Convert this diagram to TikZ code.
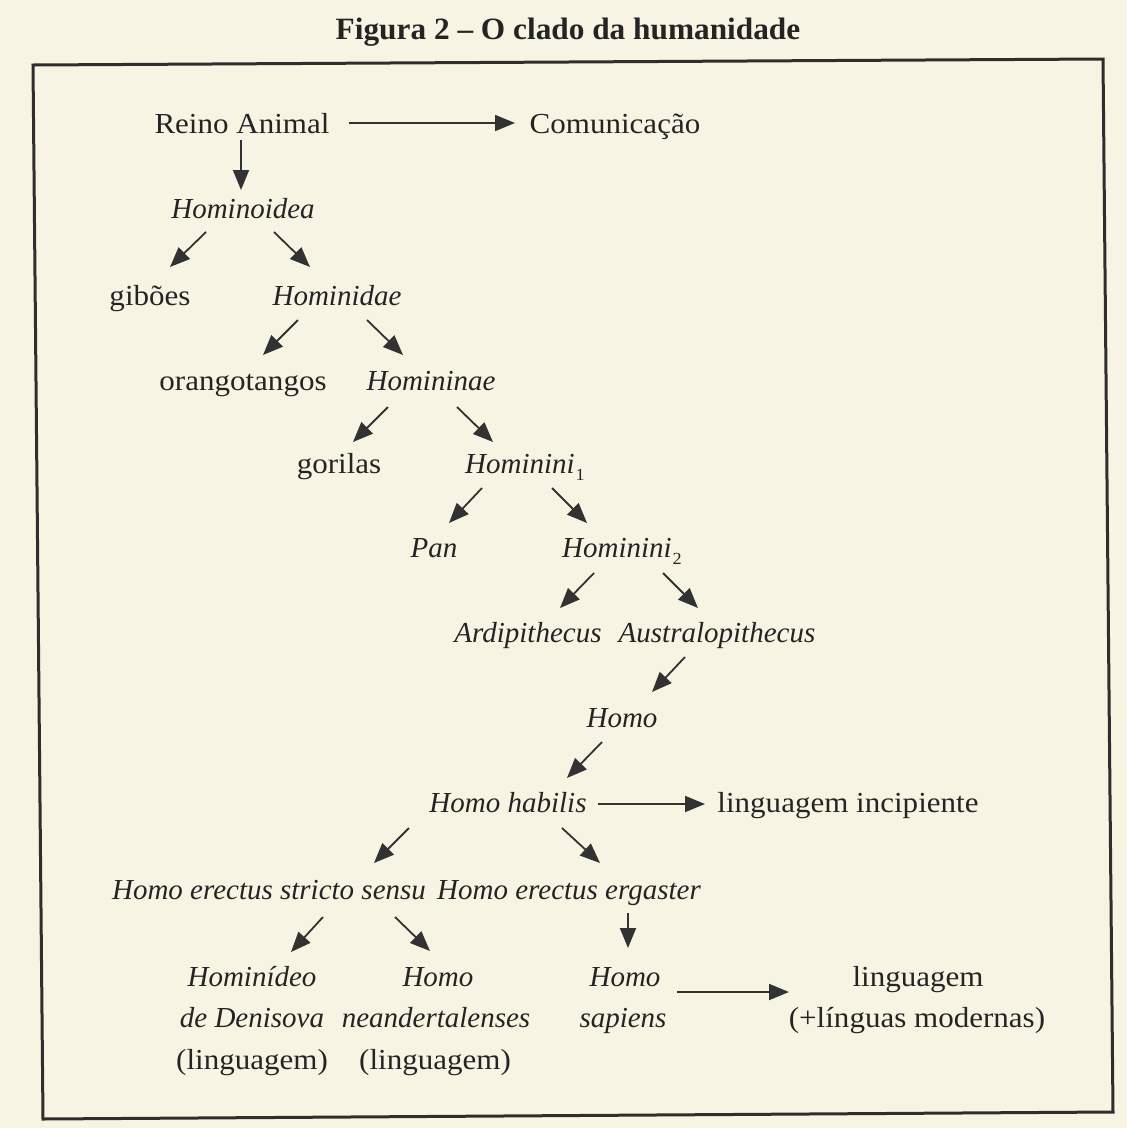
\documentclass[tikz,border=0pt]{standalone}
\usepackage{fontspec}
\setmainfont{Liberation Serif}
\newfontfamily\romf{Liberation Serif}[FakeStretch=1.07]
\newfontfamily\itfam{Liberation Serif}[FakeStretch=1.0]
\newfontfamily\bfam{Liberation Serif}[FakeStretch=1.01]
\usetikzlibrary{arrows.meta}
\definecolor{paper}{RGB}{248,244,228}
\definecolor{ink}{RGB}{36,36,36}
\definecolor{arrowink}{RGB}{50,50,50}
\newcommand{\subnum}[1]{\kern1pt\raisebox{-7pt}{\romf\upshape\fontsize{17}{17}\selectfont #1}}
\tikzset{
  rmtext/.style={anchor=base, inner sep=0pt, text=ink, font=\romf\fontsize{29}{34}\selectfont},
  ittext/.style={anchor=base, inner sep=0pt, text=ink, font=\itfam\itshape\fontsize{29}{34}\selectfont},
  titletext/.style={anchor=base, inner sep=0pt, text=ink, font=\bfam\bfseries\fontsize{31}{34}\selectfont},
  arr/.style={draw=arrowink, line width=1.8pt, -{Triangle[length=20pt,width=16pt]}},
  frameline/.style={draw=black!82, line width=3pt, line join=miter}
}
\begin{document}
\begin{tikzpicture}[x=1pt,y=-1pt]
\useasboundingbox (0,0) rectangle (1127,1128);
\fill[paper] (0,0) rectangle (1127,1128);
\draw[frameline] (33,65) -- (1103,59) -- (1113,1112) -- (43,1119) -- cycle;

\node[titletext] (title) at (568,39) {Figura 2 – O clado da humanidade};

\node[rmtext] (reino) at (242,133) {Reino Animal};
\node[rmtext] (comun) at (615,133) {Comunicação};
\node[ittext] (hominoidea) at (243,218) {Hominoidea};
\node[rmtext] (giboes) at (150,305) {gibões};
\node[ittext] (hominidae) at (337,305) {Hominidae};
\node[rmtext] (orang) at (243,390) {orangotangos};
\node[ittext] (homininae) at (431,390) {Homininae};
\node[rmtext] (gorilas) at (339,473) {gorilas};
\node[ittext] (hominini1) at (525,473) {Hominini\subnum{1}};
\node[ittext] (pan) at (434,557) {Pan};
\node[ittext] (hominini2) at (622,557) {Hominini\subnum{2}};
\node[ittext] (ardi) at (528,642) {Ardipithecus};
\node[ittext] (austral) at (717,642) {Australopithecus};
\node[ittext] (homo) at (622,727) {Homo};
\node[ittext] (habilis) at (508,812) {Homo habilis};
\node[rmtext] (incip) at (848,812) {linguagem incipiente};
\node[ittext] (stricto) at (269,899) {Homo erectus stricto sensu};
\node[ittext] (ergaster) at (569,899) {Homo erectus ergaster};

\node[ittext] (denis1) at (252,986) {Hominídeo};
\node[ittext] (denis2) at (252,1027) {de Denisova};
\node[rmtext] (denis3) at (252,1069) {(linguagem)};
\node[ittext] (neander1) at (438,986) {Homo};
\node[ittext] (neander2) at (436,1027) {neandertalenses};
\node[rmtext] (neander3) at (435,1069) {(linguagem)};
\node[ittext] (sapiens1) at (625,986) {Homo};
\node[ittext] (sapiens2) at (623,1027) {sapiens};
\node[rmtext] (lingmod1) at (918,986) {linguagem};
\node[rmtext] (lingmod2) at (917,1027) {(+línguas modernas)};

\draw[arr] ([shift={(107,-10)}]reino.base) -- ([shift={(-100,-10)}]comun.base);
\draw[arr] ([shift={(-1,7)}]reino.base) -- ([shift={(-2,-28)}]hominoidea.base);
\draw[arr] ([shift={(-37,14)}]hominoidea.base) -- ([shift={(20,-38)}]giboes.base);
\draw[arr] ([shift={(31,14)}]hominoidea.base) -- ([shift={(-27,-38)}]hominidae.base);
\draw[arr] ([shift={(-39,15)}]hominidae.base) -- ([shift={(20,-35)}]orang.base);
\draw[arr] ([shift={(30,15)}]hominidae.base) -- ([shift={(-28,-35)}]homininae.base);
\draw[arr] ([shift={(-43,17)}]homininae.base) -- ([shift={(14,-31)}]gorilas.base);
\draw[arr] ([shift={(26,17)}]homininae.base) -- ([shift={(-32,-31)}]hominini1.base);
\draw[arr] ([shift={(-43,15)}]hominini1.base) -- ([shift={(15,-34)}]pan.base);
\draw[arr] ([shift={(27,15)}]hominini1.base) -- ([shift={(-35,-34)}]hominini2.base);
\draw[arr] ([shift={(-28,16)}]hominini2.base) -- ([shift={(32,-34)}]ardi.base);
\draw[arr] ([shift={(41,16)}]hominini2.base) -- ([shift={(-19,-34)}]austral.base);
\draw[arr] ([shift={(-32,15)}]austral.base) -- ([shift={(30,-35)}]homo.base);
\draw[arr] ([shift={(-20,15)}]homo.base) -- ([shift={(59,-34)}]habilis.base);
\draw[arr] ([shift={(90,-8)}]habilis.base) -- ([shift={(-143,-8)}]incip.base);
\draw[arr] ([shift={(-99,16)}]habilis.base) -- ([shift={(105,-36)}]stricto.base);
\draw[arr] ([shift={(54,16)}]habilis.base) -- ([shift={(31,-36)}]ergaster.base);
\draw[arr] ([shift={(54,18)}]stricto.base) -- ([shift={(39,-34)}]denis1.base);
\draw[arr] ([shift={(126,18)}]stricto.base) -- ([shift={(-8,-35)}]neander1.base);
\draw[arr] ([shift={(59,14)}]ergaster.base) -- ([shift={(3,-38)}]sapiens1.base);
\draw[arr] ([shift={(52,6)}]sapiens1.base) -- ([shift={(-129,6)}]lingmod1.base);
\end{tikzpicture}
\end{document}
